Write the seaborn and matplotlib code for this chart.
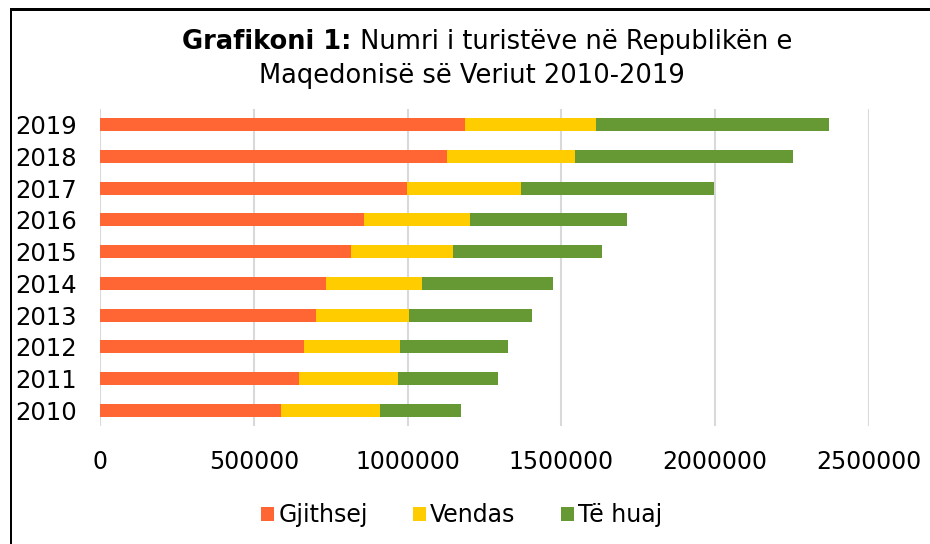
import pandas as pd
import seaborn as sns
import matplotlib.pyplot as plt
from matplotlib.patches import Patch, Rectangle

years = ["2010", "2011", "2012", "2013", "2014", "2015", "2016", "2017", "2018", "2019"]
gjithsej = [586241, 647568, 663633, 701794, 735650, 816267, 856843, 998841, 1126235, 1184963]
vendas = [324545, 320097, 312274, 302114, 310336, 330537, 346359, 368247, 419590, 427370]
te_huaj = [261696, 327471, 351359, 399680, 425314, 485530, 510484, 630594, 707345, 757593]

series_names = ["Gjithsej", "Vendas", "Të huaj"]
colors = ["#FF6633", "#FFCC00", "#669933"]

df = pd.DataFrame({"year": years, "Gjithsej": gjithsej, "Vendas": vendas, "Të huaj": te_huaj})
# kumulative per grafikun e grumbulluar
df["c1"] = df["Gjithsej"]
df["c2"] = df["c1"] + df["Vendas"]
df["c3"] = df["c2"] + df["Të huaj"]

order = years[::-1]

sns.set_theme(style="white")
plt.rcParams["font.family"] = ["DejaVu Sans"]
plt.rcParams["text.color"] = "black"

W, H = 930, 544
fig = plt.figure(figsize=(9.3, 5.44), dpi=100)
ax = fig.add_axes([100.3 / W, 1 - 426.2 / H, 768.5 / W, 317.3 / H])

# vizato nga me e gjata te me e shkurtra
for col, c in zip(["c3", "c2", "c1"], colors[::-1]):
    sns.barplot(data=df, y="year", x=col, order=order, orient="h",
                color=c, width=0.41, saturation=1, edgecolor="none", ax=ax)

ax.set_xlim(0, 2500000)
ax.set_xticks([0, 500000, 1000000, 1500000, 2000000, 2500000])
ax.set_xticklabels(["0", "500000", "1000000", "1500000", "2000000", "2500000"])
ax.xaxis.grid(True, color="#D9D9D9", linewidth=1.5)
ax.yaxis.grid(False)
ax.set_axisbelow(True)
for s in ax.spines.values():
    s.set_visible(False)
ax.set_xlabel("")
ax.set_ylabel("")
ax.tick_params(axis="x", length=4.3, width=1.2, color="#D9D9D9", pad=13, labelsize=17, labelcolor="black")
ax.tick_params(axis="y", length=0, pad=17, labelsize=17.5, labelcolor="black")

# titulli: pjesa e pare e trashe, pjesa tjeter normale
ts = 18.5
t_bold = fig.text(0, 1 - 49 / H, "Grafikoni 1:", fontsize=ts, fontweight="bold", va="baseline")
t_reg = fig.text(0, 1 - 49 / H, " Numri i turistëve në Republikën e", fontsize=ts, va="baseline")
fig.canvas.draw()
r = fig.canvas.get_renderer()
wb = t_bold.get_window_extent(r).width
wr = t_reg.get_window_extent(r).width
x0 = 487 - (wb + wr) / 2
t_bold.set_x(x0 / W)
t_reg.set_x((x0 + wb) / W)
fig.text(472 / W, 1 - 83 / H, "Maqedonisë së Veriut 2010-2019", fontsize=ts, ha="center", va="baseline")

handles = [Patch(facecolor=c, edgecolor="none") for c in colors]
fig.legend(handles, series_names, loc="center", bbox_to_anchor=(461.5 / W, 1 - 515 / H),
           ncol=3, frameon=False, fontsize=17, handlelength=0.55, handleheight=0.55,
           handletextpad=0.2, columnspacing=1.9)

# korniza e grafikut: vija majtas dhe lart
fig.add_artist(Rectangle((9.5 / W, 0), 2 / W, 1 - 8 / H, facecolor="black",
                         edgecolor="none", transform=fig.transFigure))
fig.add_artist(Rectangle((9.5 / W, 1 - 10.5 / H), 1, 2.5 / H, facecolor="black",
                         edgecolor="none", transform=fig.transFigure))

fig.savefig("out.png", dpi=100)
